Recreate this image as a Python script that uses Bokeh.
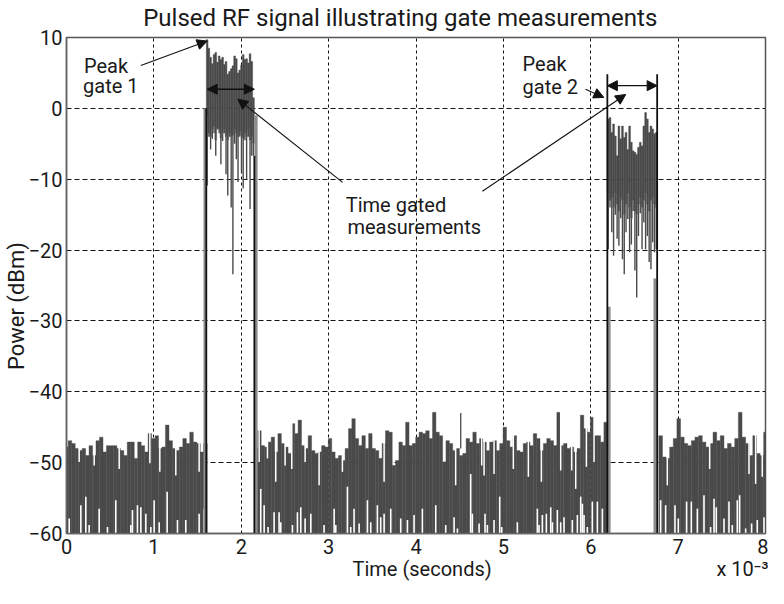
import numpy as np
from bokeh.plotting import figure
from bokeh.models import Range1d, Arrow, NormalHead, FixedTicker, LinearAxis
from bokeh.embed import file_html
from bokeh.resources import INLINE
from bokeh.core.properties import value

# ---------------- data ----------------
# time in ms (axis shows x 10^-3 s), power in dBm
noise1_span = [0.0, 1.59]
noise1_top = [-47.8, -46.9, -47.3, -48.0, -48.3, -48.0, -49.0, -47.6, -49.0, -46.9,
              -46.4, -48.5, -47.6, -47.6, -47.6, -48.0, -48.3, -49.0, -47.1, -47.1,
              -49.4, -47.1, -47.6, -48.5, -45.9, -46.6, -46.2, -48.0, -47.8, -44.7,
              -46.9, -48.0, -48.3, -47.8, -46.6, -47.3, -45.7, -47.1, -47.3, -48.5, -47.3]

noise2_span = [2.17, 6.17]
noise2_top = [-48.0, -45.5, -47.6, -47.8, -47.1, -46.4, -48.5, -45.9, -47.3, -47.8,
              -48.7, -44.5, -45.9, -44.0, -47.6, -48.0, -46.2, -48.3, -48.7, -48.5,
              -47.6, -47.8, -46.6, -48.5, -49.4, -49.0, -49.7, -48.0, -45.2, -43.8,
              -46.6, -47.6, -46.2, -48.0, -45.9, -48.0, -48.3, -49.4, -47.3, -45.5,
              -45.7, -50.4, -49.7, -47.1, -47.6, -44.3, -47.6, -47.3, -46.4, -45.7,
              -45.9, -45.5, -46.6, -42.9, -45.7, -46.2, -49.9, -46.9, -47.3,
              -48.3, -48.0, -49.0, -48.7, -46.6, -47.1, -45.7, -47.3, -46.6, -47.1,
              -48.3, -47.1, -46.9, -48.3, -47.3, -45.0, -46.9, -47.8, -46.2, -48.3,
              -48.5, -47.3, -47.1, -47.6, -45.9, -46.6, -48.3, -47.3, -46.6, -46.9,
              -47.6, -42.9, -47.6, -47.3, -48.0, -47.8, -48.5, -48.0, -43.3, -45.2,
              -45.7, -43.6, -46.2, -46.2, -47.1, -44.3]

noise3_span = [6.80, 8.0]
noise3_top = [-46.2, -49.2, -49.4, -47.8, -46.6, -43.8, -46.4, -47.3, -47.6, -46.9,
              -46.4, -46.2, -47.1, -47.8, -47.3, -45.7, -46.9, -46.2, -48.0, -47.3,
              -47.8, -46.6, -42.9, -46.4, -47.3, -49.0, -46.2, -48.7, -49.0, -45.7]

# narrow white drop-outs from the top of the noise (time, lowest level)
gap_t = [0.145, 0.317, 0.603, 0.954, 1.068, 1.251, 1.518,
         2.205, 2.300, 2.395, 2.502, 2.578, 2.731, 2.891, 3.158, 3.635,
         4.454, 4.752, 4.779, 4.893, 5.114, 5.286, 5.435, 5.656, 5.782, 5.828, 5.950, 6.038,
         6.876, 7.361, 7.811, 7.887, 7.963]
gap_db = [-49.9, -50.4, -50.9, -50.1, -51.3, -51.8, -51.3,
          -49.9, -49.4, -52.7, -50.4, -50.9, -49.9, -53.2, -51.3, -52.7,
          -53.2, -50.4, -51.8, -51.6, -50.9, -52.0, -52.7, -51.1, -51.1, -53.7, -50.6, -49.9,
          -53.2, -50.9, -51.6, -53.0, -52.0]

# narrow white slivers rising from the -60 floor (time, level reached)
sliver_t = [0.031, 0.164, 0.221, 0.259, 0.374, 0.469, 0.564, 0.736, 0.755, 0.812, 0.851,
            0.908, 0.965, 1.003, 1.061, 1.152, 1.270, 1.365, 1.518, 1.575,
            2.223, 2.262, 2.307, 2.376, 2.433, 2.452, 2.586, 2.643, 2.681, 2.731, 2.796,
            2.948, 3.063, 3.082, 3.215, 3.253, 3.291, 3.349, 3.444, 3.482, 3.558, 3.596,
            3.635, 3.711, 3.825, 3.902, 3.978, 4.073, 4.226, 4.340,
            4.436, 4.474, 4.626, 4.645, 4.722, 4.790, 4.817, 4.893, 4.958, 4.981, 5.160,
            5.389, 5.408, 5.446, 5.492, 5.542, 5.561, 5.618, 5.656, 5.694, 5.789, 5.847,
            5.885, 5.904, 5.923, 5.961, 6.018, 6.076, 6.133,
            6.800, 6.857, 6.964, 7.002, 7.097, 7.151, 7.220, 7.296, 7.372, 7.411, 7.437,
            7.525, 7.582, 7.620, 7.677, 7.704, 7.773, 7.841, 7.906, 7.983]
sliver_db = [-57.9, -56.0, -54.8, -58.8, -56.5, -59.1, -55.3, -58.8, -56.7, -56.0, -56.3,
             -57.2, -59.1, -55.3, -58.4, -54.1, -58.1, -58.1, -57.2, -56.5,
             -53.7, -56.0, -59.1, -57.0, -57.0, -58.4, -58.8, -57.0, -56.3, -57.9, -57.2,
             -58.8, -56.5, -58.8, -53.4, -59.1, -56.5, -58.6, -55.3, -58.4, -56.0, -57.7,
             -57.2, -56.5, -57.9, -58.1, -57.4, -56.5, -56.0, -58.8,
             -57.7, -59.3, -51.6, -57.2, -58.6, -57.2, -58.8, -58.1, -54.8, -59.1, -58.4,
             -56.5, -58.8, -57.4, -57.2, -56.3, -58.4, -56.7, -58.4, -57.7, -58.1, -57.4,
             -54.8, -55.8, -57.4, -59.1, -55.5, -55.5, -56.5,
             -55.3, -56.0, -56.0, -57.9, -55.5, -55.5, -56.5, -54.6, -59.1, -55.1, -56.3,
             -57.9, -55.5, -58.8, -55.3, -54.6, -59.3, -58.6, -58.1, -57.7]

# thin upward spike in the noise
spike_up_t = [4.512]
spike_up_db = [-43.0]

# pulse 1 (gate 1)
pulse1_span = [1.61, 2.14]
pulse1_top = [9.7, 8.5, 7.2, 6.3, 7.6, 7.9, 6.5, 7.4, 6.9, 7.2, 6.2, 6.6, 4.8, 5.2,
              5.6, 6.0, 7.4, 7.0, 5.0, 5.4, 6.1, 7.6, 6.9, 7.0, 6.4, 7.7, 6.6, 1.5]
pulse1_core = [-1.0, -3.5, -4.0, -3.0, -2.5, -4.5, -2.8, -3.0, -4.2, -3.5, -3.0, -4.0, -4.5, -3.5,
               -4.0, -3.8, -3.0, -3.5, -4.0, -3.2, -3.8, -4.2, -3.5, -4.0, -3.0, -4.5, -4.0, -5.0]
pulse1_low = [-10.9, -4.0, -5.8, -4.3, -3.5, -6.7, -3.0, -3.5, -7.9, -4.6, -3.5, -9.3, -12.3, -4.0,
              -14.0, -23.4, -5.0, -7.2, -10.4, -4.0, -9.0, -11.3, -4.5, -10.0, -4.0, -14.2, -6.7, -6.7]

# pulse 2 (gate 2)
pulse2_span = [6.20, 6.75]
pulse2_top = [-1.5, -1.3, -3.4, -2.2, -3.9, -6.7, -2.5, -4.3, -2.5, -4.1, -3.4, -5.8, -2.5, -4.8,
              -6.0, -6.2, -6.5, -5.5, -4.8, -5.3, -2.5, -0.6, -1.5, -3.4, -2.5, -2.9, -3.6, -3.4]
pulse2_core = [-12.0, -13.0, -12.5, -14.0, -12.0, -13.5, -14.5, -12.5, -13.0, -15.0, -13.5, -12.0, -14.0, -15.5,
               -13.0, -14.5, -15.0, -13.5, -12.5, -14.0, -13.0, -12.0, -13.5, -14.5, -13.0, -12.5, -13.5, -14.0]
pulse2_low = [-19.9, -14.0, -17.5, -20.8, -15.0, -18.4, -19.4, -15.5, -21.3, -23.4, -17.5, -15.6, -20.3, -19.2,
              -14.5, -22.9, -26.7, -18.0, -14.8, -19.9, -16.1, -19.9, -18.0, -21.7, -22.7, -18.9, -20.3, -19.9]

# pulse edges / gate lines (time, top level)
edge_t = [1.60, 2.15, 6.19, 6.76]
edge_top = [0.0, -6.7, 4.8, 4.8]
band_t = [1.585, 2.17, 6.21, 6.735]
band_top = [0.0, -1.0, -28.0, -24.0]

x_ticks = [0, 1, 2, 3, 4, 5, 6, 7, 8]
y_ticks = [-60, -50, -40, -30, -20, -10, 0, 10]

title_text = "Pulsed RF signal illustrating gate measurements"
x_label = "Time (seconds)"
x_scale_note = "x 10\u207b\u00b3"
y_label = "Power (dBm)"
# where the outer texts are centred (data units along their axis)
title_at = 3.82
x_label_at = 4.07
x_scale_at = 7.78
y_label_at = -27.9

# annotations: (text, x, y)
notes = [("Peak", 0.20, 6.0), ("gate 1", 0.19, 3.19),
         ("Time gated", 3.196, -13.7), ("measurements", 3.215, -16.8),
         ("Peak", 5.22, 6.23), ("gate 2", 5.22, 2.95)]
# pointer arrows: (x_start, y_start, x_end, y_end)
pointers = [(0.85, 6.05, 1.61, 9.5),
            (3.16, -10.45, 1.96, 1.3),
            (4.76, -11.7, 6.40, 1.96),
            (5.94, 2.71, 6.15, 1.54)]
# double arrows across the gates
gate_arrows = [(1.61, 2.7, 2.15, 2.7), (6.19, 3.2, 6.76, 3.2)]

# ---------------- drawing ----------------
FONT = "Roboto"
DARK = "#4a4a4a"
TXT = "#1a1a1a"

p = figure(width=768, height=588, output_backend="svg", toolbar_location=None,
           title=None, x_range=Range1d(0, 8), y_range=Range1d(-60, 10),
           min_border_left=66, min_border_right=3, min_border_top=37, min_border_bottom=55)
p.background_fill_color = "white"
p.outline_line_color = "#555555"
p.outline_line_width = 1.5

xa = p.xaxis[0]
ya = p.yaxis[0]
for ax in (xa, ya):
    ax.axis_line_color = "#666666"
    ax.axis_line_width = 1.5
    ax.major_tick_out = 0
    ax.major_tick_in = 0
    ax.minor_tick_line_color = None
    ax.major_label_text_font = FONT
    ax.major_label_text_font_size = "20px"
    ax.major_label_text_color = TXT
xa.ticker = FixedTicker(ticks=x_ticks)
ya.ticker = FixedTicker(ticks=y_ticks)
xa.major_label_standoff = 5
ya.major_label_standoff = 4
ya.major_label_overrides = {t: (str(t).replace("-", "\u2212")) for t in y_ticks}

p.xgrid.grid_line_color = "#111111"
p.xgrid.grid_line_dash = "3 3"
p.ygrid.grid_line_color = "#111111"
p.ygrid.grid_line_dash = "5 3"
p.xgrid.grid_line_width = 1
p.ygrid.grid_line_width = 1


def text_axis(ticks, labels, size, standoff, orientation="horizontal"):
    ax = LinearAxis(ticker=FixedTicker(ticks=ticks),
                    major_label_overrides=dict(zip(ticks, labels)),
                    axis_line_color=None, major_tick_line_color=None,
                    minor_tick_line_color=None, major_tick_in=0, major_tick_out=0,
                    major_label_standoff=standoff, major_label_text_font=FONT,
                    major_label_text_font_size=size, major_label_text_color=TXT,
                    major_label_orientation=orientation)
    return ax


p.add_layout(text_axis([x_label_at, x_scale_at], [x_label, x_scale_note], "20px", 0), "below")
p.add_layout(text_axis([y_label_at], [y_label], "22px", -4, "vertical"), "left")
p.add_layout(text_axis([title_at], [title_text], "24px", 6), "above")


def draw_noise(span, tops):
    xs = np.linspace(span[0], span[1], len(tops))
    w = (span[1] - span[0]) / (len(tops) - 1)
    p.vbar(x=xs, width=w * 1.02, bottom=-60, top=tops, fill_color=DARK,
           line_color=DARK, line_width=0.4)


draw_noise(noise1_span, noise1_top)
draw_noise(noise2_span, noise2_top)
draw_noise(noise3_span, noise3_top)

# white drop-outs and slivers
p.segment(x0=gap_t, y0=gap_db, x1=gap_t, y1=[-42.0] * len(gap_t),
          line_color="white", line_width=1.5)
p.segment(x0=sliver_t, y0=[-60.0] * len(sliver_t), x1=sliver_t, y1=sliver_db,
          line_color="white", line_width=1.6)
p.segment(x0=spike_up_t, y0=[-48.0] * len(spike_up_t), x1=spike_up_t, y1=spike_up_db,
          line_color=DARK, line_width=1.3)


def draw_pulse(span, tops, core, low):
    xs = np.linspace(span[0], span[1], len(tops))
    w = (span[1] - span[0]) / (len(tops) - 1)
    p.vbar(x=xs, width=w * 1.02, bottom=core, top=tops, fill_color=DARK,
           line_color=DARK, line_width=0.4)
    p.segment(x0=xs, y0=core, x1=xs, y1=low, line_color=DARK, line_width=1.4)


draw_pulse(pulse1_span, pulse1_top, pulse1_core, pulse1_low)
draw_pulse(pulse2_span, pulse2_top, pulse2_core, pulse2_low)

p.segment(x0=band_t, y0=[-60.0] * 4, x1=band_t, y1=band_top, line_color="#8c8c8c", line_width=3)
p.segment(x0=edge_t, y0=[-60.0] * 4, x1=edge_t, y1=edge_top, line_color="#111111", line_width=1.8)

# texts inside the plot
p.text(x=[n[1] for n in notes], y=[n[2] for n in notes], text=[n[0] for n in notes],
       text_font=value(FONT), text_font_size="20px", text_color=TXT,
       text_align="left", text_baseline="alphabetic")

for (xs_, ys_, xe_, ye_) in pointers:
    p.add_layout(Arrow(x_start=xs_, y_start=ys_, x_end=xe_, y_end=ye_,
                       line_color="#111111", line_width=1.1,
                       end=NormalHead(size=10, fill_color="#111111", line_color="#111111")))
for (xs_, ys_, xe_, ye_) in gate_arrows:
    p.add_layout(Arrow(x_start=xs_, y_start=ys_, x_end=xe_, y_end=ye_,
                       line_color="#111111", line_width=1.3,
                       start=NormalHead(size=10, fill_color="#111111", line_color="#111111"),
                       end=NormalHead(size=10, fill_color="#111111", line_color="#111111")))

open("out.html", "w").write(file_html(p, INLINE))
